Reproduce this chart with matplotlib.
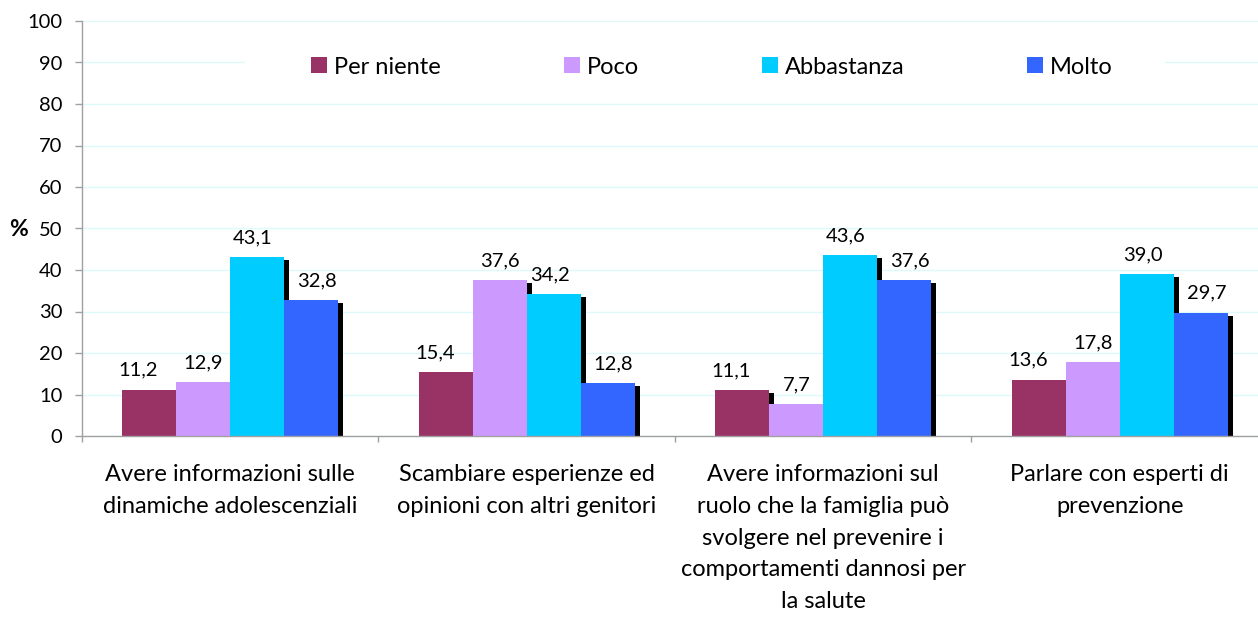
import matplotlib
matplotlib.use('Agg')
import matplotlib.pyplot as plt
import matplotlib.patheffects as pe
from matplotlib.patches import Rectangle
import numpy as np

categories = [
    "Avere informazioni sulle\ndinamiche adolescenziali",
    "Scambiare esperienze ed\nopinioni con altri genitori",
    "Avere informazioni sul\nruolo che la famiglia può\nsvolgere nel prevenire i\ncomportamenti dannosi per\nla salute",
    "Parlare con esperti di\nprevenzione",
]
series_names = ["Per niente", "Poco", "Abbastanza", "Molto"]
per_niente = [11.2, 15.4, 11.1, 13.6]
poco = [12.9, 37.6, 7.7, 17.8]
abbastanza = [43.1, 34.2, 43.6, 39.0]
molto = [32.8, 12.8, 37.6, 29.7]
y_ticks = [0, 10, 20, 30, 40, 50, 60, 70, 80, 90, 100]

colors = ['#993366', '#CC99FF', '#00CCFF', '#3366FF']
label_dx = [-8, 0, -3, 4]  # points, small label shifts as in reference

plt.rcParams['font.family'] = ['Lato', 'DejaVu Sans']

W, H = 1258, 617
fig = plt.figure(figsize=(W / 100, H / 100), dpi=100)
ax = fig.add_axes([82 / W, (H - 436) / H, 1186 / W, 415 / H])
ax.set_xlim(-0.5, 3.5)
ax.set_ylim(0, 100)

data = [per_niente, poco, abbastanza, molto]
x = np.arange(len(categories))
bw = 0.182
shadow = [pe.SimplePatchShadow(offset=(3.6, -2.2), shadow_rgbFace='black', alpha=1.0), pe.Normal()]
for i, (name, vals, c) in enumerate(zip(series_names, data, colors)):
    pos = x + (i - 1.5) * bw
    bars = ax.bar(pos, vals, bw, color=c, label=name, zorder=2, linewidth=0)
    for b in bars:
        b.set_path_effects(shadow)
    for p, v in zip(pos, vals):
        ax.annotate(f"{v:.1f}".replace('.', ','), (p, v), xytext=(label_dx[i], 10),
                    textcoords='offset points', ha='center', va='baseline', fontsize=14.5)

# grid
ax.set_yticks(y_ticks)
ax.yaxis.grid(True, color='#DCFAFC', linewidth=1.0)
ax.set_axisbelow(True)

for s in ['top', 'right']:
    ax.spines[s].set_visible(False)
for s in ['left', 'bottom']:
    ax.spines[s].set_color('#A0A0A0')
    ax.spines[s].set_linewidth(1.0)

ax.tick_params(axis='y', direction='out', length=5, width=1, color='#A0A0A0',
               pad=9, labelsize=14.5)
ax.set_xticks([-0.5, 0.5, 1.5, 2.5, 3.5])
ax.set_xticklabels([])
ax.tick_params(axis='x', which='major', direction='out', length=4, width=1, color='#A0A0A0')
ax.set_xticks(x, minor=True)
ax.set_xticklabels(categories, minor=True, fontsize=17, linespacing=1.64)
ax.tick_params(axis='x', which='minor', length=0, pad=20)

fig.text(18 / W, (H - 229) / H, '%', fontsize=16.5, fontweight='bold', ha='center', va='center')

# legend background
ax.add_patch(Rectangle((245 / W, (H - 95) / H), 920 / W, 50 / H, transform=fig.transFigure,
                       facecolor='white', edgecolor='none', zorder=1))
leg = ax.legend(ncol=4, loc='center', bbox_to_anchor=(712 / W, (H - 67) / H),
                bbox_transform=fig.transFigure, frameon=False, handlelength=0.68,
                handleheight=0.68, handletextpad=0.3, columnspacing=5.2, fontsize=17)
for h in leg.legend_handles:
    h.set_path_effects([])

fig.savefig('out.png', dpi=100)
